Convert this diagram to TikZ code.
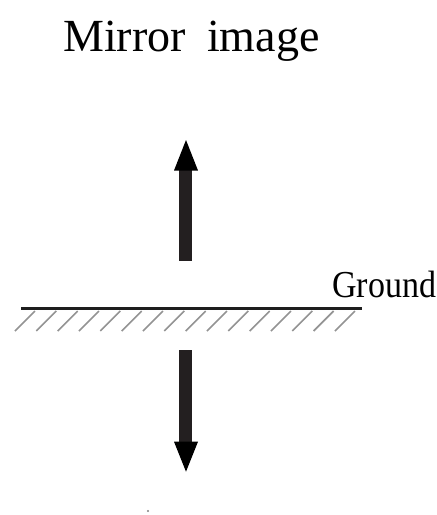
\documentclass[tikz,border=0pt]{standalone}
\usepackage{fontspec}
\usepackage{graphicx}
\setmainfont{Liberation Serif}
\begin{document}
\begin{tikzpicture}[x=1pt,y=-1pt,
  lbl/.style={inner sep=0pt,anchor=base west,text=black},
  shaft/.style={fill={rgb,255:red,35;green,31;blue,32}},
  head/.style={fill=black},
  hatch/.style={draw=gray!85,line width=1.6pt}]
\useasboundingbox (0,0) rectangle (437,515);
\node[lbl,font=\fontsize{46}{50}\selectfont] (t1) at (63,51) {Mirror};
\node[lbl,font=\fontsize{46}{50}\selectfont] (t2) at (207,51) {image};
\node[lbl,font=\fontsize{34}{38}\selectfont] (g) at (332,297) {\scalebox{1}[1.12]{Ground}};
% up arrow
\fill[shaft] (179,169.5) rectangle (191.7,260.7);
\fill[head] (174,170.5) -- (198,170.5) -- (186,140) -- cycle;
% down arrow
\fill[shaft] (179,350) rectangle (191.7,442.5);
\fill[head] (174,441.7) -- (198,441.7) -- (186,471.7) -- cycle;
% ground
\draw[line width=3pt,color={rgb,255:red,30;green,30;blue,30}] (21,308.3) -- (362,308.3);
\foreach \i in {0,...,15} {
  \draw[hatch] ({15+21.33*\i},331) -- ({35+21.33*\i},311);
}
% dot
\fill[gray] (148,511) circle (1.2);
\end{tikzpicture}
\end{document}
